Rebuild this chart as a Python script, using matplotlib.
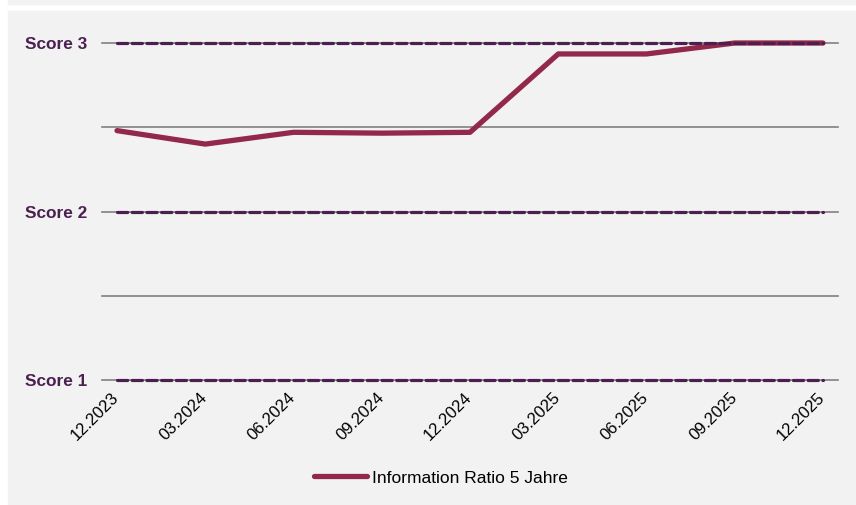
import matplotlib
matplotlib.use('Agg')
import matplotlib.pyplot as plt
from matplotlib.patches import Rectangle
from matplotlib.transforms import ScaledTranslation

# data
dates = ['12.2023', '03.2024', '06.2024', '09.2024', '12.2024',
         '03.2025', '06.2025', '09.2025', '12.2025']
info_ratio = [2.48, 2.40, 2.47, 2.465, 2.47, 2.935, 2.935, 3.0, 3.0]
score_levels = [1, 2, 3]
score_labels = ['Score 1', 'Score 2', 'Score 3']
grid_levels = [1, 1.5, 2, 2.5, 3]

W, H = 856, 505
line_col = '#93294a'
score_col = '#4b2050'
panel_col = '#f2f2f2'

plt.rcParams['font.family'] = ['Liberation Sans', 'DejaVu Sans']


def main():
    fig = plt.figure(figsize=(W / 100, H / 100), dpi=100)
    fig.patch.set_facecolor('white')
    # grey panels behind the chart
    fig.patches.append(Rectangle((8 / W, 1 - 4 / H), 848 / W, 4 / H,
                                 transform=fig.transFigure, color=panel_col, zorder=-10))
    fig.patches.append(Rectangle((8 / W, 0), 848 / W, 1 - 11 / H,
                                 transform=fig.transFigure, color=panel_col, zorder=-10))

    left, right = 102, 838
    top, bottom = 43, 380
    ax = fig.add_axes([left / W, 1 - bottom / H, (right - left) / W, (bottom - top) / H])
    ax.set_facecolor('none')
    for s in ax.spines.values():
        s.set_visible(False)

    x = list(range(len(dates)))
    pad = 0.17
    ax.set_xlim(-pad, len(dates) - 1 + pad)
    ax.set_ylim(1, 3)

    for g in grid_levels:
        ax.axhline(g, color='#808080', lw=1.2, zorder=1, clip_on=False)

    ax.plot(x, info_ratio, color=line_col, lw=3.8, solid_capstyle='round',
            solid_joinstyle='round', zorder=3, clip_on=False,
            label='Information Ratio 5 Jahre')

    for lv in score_levels:
        ax.plot([x[0], x[-1]], [lv, lv], color=score_col, lw=2.3,
                dashes=(3.2, 1.4), dash_capstyle='round', zorder=4, clip_on=False)

    ax.set_yticks(score_levels)
    ax.set_yticklabels(score_labels, fontsize=12.4, fontweight='bold', color=score_col)
    ax.tick_params(axis='y', length=0, pad=10.5)

    ax.set_xticks(x)
    ax.set_xticklabels(dates, rotation=45, ha='right', fontsize=12, color='black')
    ax.tick_params(axis='x', length=0, pad=7)
    # nudge rotated labels so their top-right corner sits at the tick
    shift = ScaledTranslation(5 / 100, 0, fig.dpi_scale_trans)
    for lab in ax.get_xticklabels():
        lab.set_transform(lab.get_transform() + shift)

    fig.legend(loc='center', bbox_to_anchor=(441 / W, 1 - 478 / H), frameon=False,
               fontsize=12.5, handlelength=3.05, handletextpad=0.3)

    fig.savefig('out.png', dpi=100, facecolor=fig.get_facecolor())


if __name__ == '__main__':
    main()
